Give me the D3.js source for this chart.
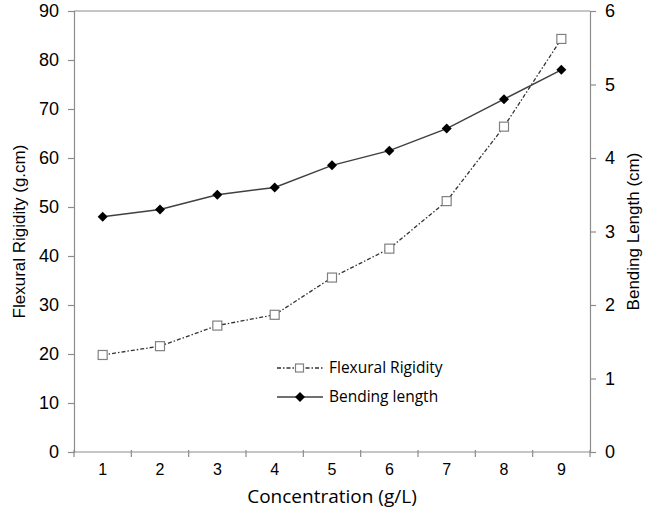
<!DOCTYPE html>
<html>
<head>
<meta charset="utf-8">
<script src="https://cdn.jsdelivr.net/npm/d3@7"></script>
<style>
  body { margin: 0; background: #fff; }
  text { font-family: "Liberation Sans", Arial, sans-serif; }
</style>
</head>
<body>
<script>
var concentrations = [1, 2, 3, 4, 5, 6, 7, 8, 9];
var flexural = [19.8, 21.6, 25.8, 28.0, 35.6, 41.5, 51.2, 66.4, 84.3];
var bending = [3.2, 3.3, 3.5, 3.6, 3.9, 4.1, 4.4, 4.8, 5.2];
var leftTicks = [0, 10, 20, 30, 40, 50, 60, 70, 80, 90];
var rightTicks = [0, 1, 2, 3, 4, 5, 6];

var w = 660, h = 515;
var plotL = 74, plotR = 590, plotT = 11, plotB = 452;
var axisGrey = "#8c8c8c";
var arial = "'Liberation Sans', Arial, sans-serif";
var calibri = "'Open Sans', Calibri, sans-serif";

var svg = d3.select("body").append("svg").attr("width", w).attr("height", h);

var x = d3.scaleBand().domain(concentrations).range([plotL, plotR]);
var yL = d3.scaleLinear().domain([0, 90]).range([plotB, plotT]);
var yR = d3.scaleLinear().domain([0, 6]).range([plotB, plotT]);

// top border of the plot area
svg.append("line").attr("x1", plotL).attr("x2", plotR).attr("y1", plotT).attr("y2", plotT)
  .attr("stroke", axisGrey).attr("stroke-width", 1.2);

// left axis
var gL = svg.append("g").attr("transform", "translate(" + plotL + ",0)")
  .call(d3.axisLeft(yL).tickValues(leftTicks).tickSize(6).tickPadding(9));
// right axis
var gR = svg.append("g").attr("transform", "translate(" + plotR + ",0)")
  .call(d3.axisRight(yR).tickValues(rightTicks).tickFormat(d3.format("d")).tickSize(6).tickPadding(9));
// bottom axis: ticks between categories
var gB = svg.append("g").attr("transform", "translate(0," + plotB + ")")
  .call(d3.axisBottom(x).tickSize(0).tickPadding(12));
gB.selectAll(".boundary").data(d3.range(concentrations.length + 1)).enter()
  .append("line").attr("class", "boundary")
  .attr("x1", function(i) { return plotL + i * x.step(); })
  .attr("x2", function(i) { return plotL + i * x.step(); })
  .attr("y1", -2).attr("y2", 5)
  .attr("stroke", axisGrey).attr("stroke-width", 1.2);

[gL, gR, gB].forEach(function(g) {
  g.attr("font-family", arial);
  g.selectAll(".domain").attr("stroke", axisGrey).attr("stroke-width", 1.2);
  g.selectAll(".tick line").attr("stroke", axisGrey).attr("stroke-width", 1.2);
  g.selectAll(".tick text").attr("fill", "#000").style("font-size", "18px").style("font-family", arial);
});
gB.selectAll(".tick text").style("font-size", "16px");
gB.select(".domain").attr("d", "M" + plotL + ",0H" + plotR);

// axis titles
svg.append("text").attr("transform", "translate(25," + ((plotT + plotB) / 2) + ") rotate(-90)")
  .attr("text-anchor", "middle").style("font-size", "17px").style("font-family", arial).attr("fill", "#000")
  .text("Flexural Rigidity (g.cm)");
svg.append("text").attr("transform", "translate(639," + ((plotT + plotB) / 2) + ") rotate(-90)")
  .attr("text-anchor", "middle").style("font-size", "17px").style("font-family", arial).attr("fill", "#000")
  .text("Bending Length (cm)");
svg.append("text").attr("x", 332).attr("y", 503)
  .attr("text-anchor", "middle").style("font-size", "19px").attr("fill", "#000")
  .style("font-family", calibri)
  .text("Concentration (g/L)");

function cx(d, i) { return x(concentrations[i]) + x.bandwidth() / 2; }

// flexural rigidity line
var lineL = d3.line().x(function(d, i) { return cx(d, i); }).y(function(d) { return yL(d); });
svg.append("path").datum(flexural).attr("d", lineL).attr("fill", "none")
  .attr("stroke", "#333").attr("stroke-width", 1.3).attr("stroke-dasharray", "4,2,1.5,2");
svg.selectAll(".sq").data(flexural).enter().append("rect").attr("class", "sq")
  .attr("x", function(d, i) { return cx(d, i) - 4.5; })
  .attr("y", function(d) { return yL(d) - 4.5; })
  .attr("width", 9).attr("height", 9)
  .attr("fill", "#fff").attr("stroke", "#808080").attr("stroke-width", 1.2);

// bending length line
var lineR = d3.line().x(function(d, i) { return cx(d, i); }).y(function(d) { return yR(d); });
svg.append("path").datum(bending).attr("d", lineR).attr("fill", "none")
  .attr("stroke", "#404040").attr("stroke-width", 1.5);
// diamond = square turned 45 degrees
var diamond = d3.symbol().type(d3.symbolSquare).size(50);
svg.selectAll(".dm").data(bending).enter().append("path").attr("class", "dm")
  .attr("d", diamond)
  .attr("transform", function(d, i) { return "translate(" + cx(d, i) + "," + yR(d) + ") rotate(45)"; })
  .attr("fill", "#000");

// legend
var lg = svg.append("g").attr("transform", "translate(277,0)");
lg.append("line").attr("x1", 0).attr("x2", 46).attr("y1", 368).attr("y2", 368)
  .attr("stroke", "#333").attr("stroke-width", 1.3).attr("stroke-dasharray", "4,2,1.5,2");
lg.append("rect").attr("x", 18.5).attr("y", 364).attr("width", 8).attr("height", 8)
  .attr("fill", "#fff").attr("stroke", "#808080").attr("stroke-width", 1.2);
lg.append("text").attr("x", 52).attr("y", 373).style("font-size", "15.5px").attr("fill", "#000")
  .style("font-family", calibri).text("Flexural Rigidity");
lg.append("line").attr("x1", 0).attr("x2", 46).attr("y1", 397).attr("y2", 397)
  .attr("stroke", "#404040").attr("stroke-width", 1.5);
lg.append("path").attr("d", diamond).attr("transform", "translate(23,397) rotate(45)").attr("fill", "#000");
lg.append("text").attr("x", 52).attr("y", 402).style("font-size", "15.5px").attr("fill", "#000")
  .style("font-family", calibri).text("Bending length");
</script>
</body>
</html>
